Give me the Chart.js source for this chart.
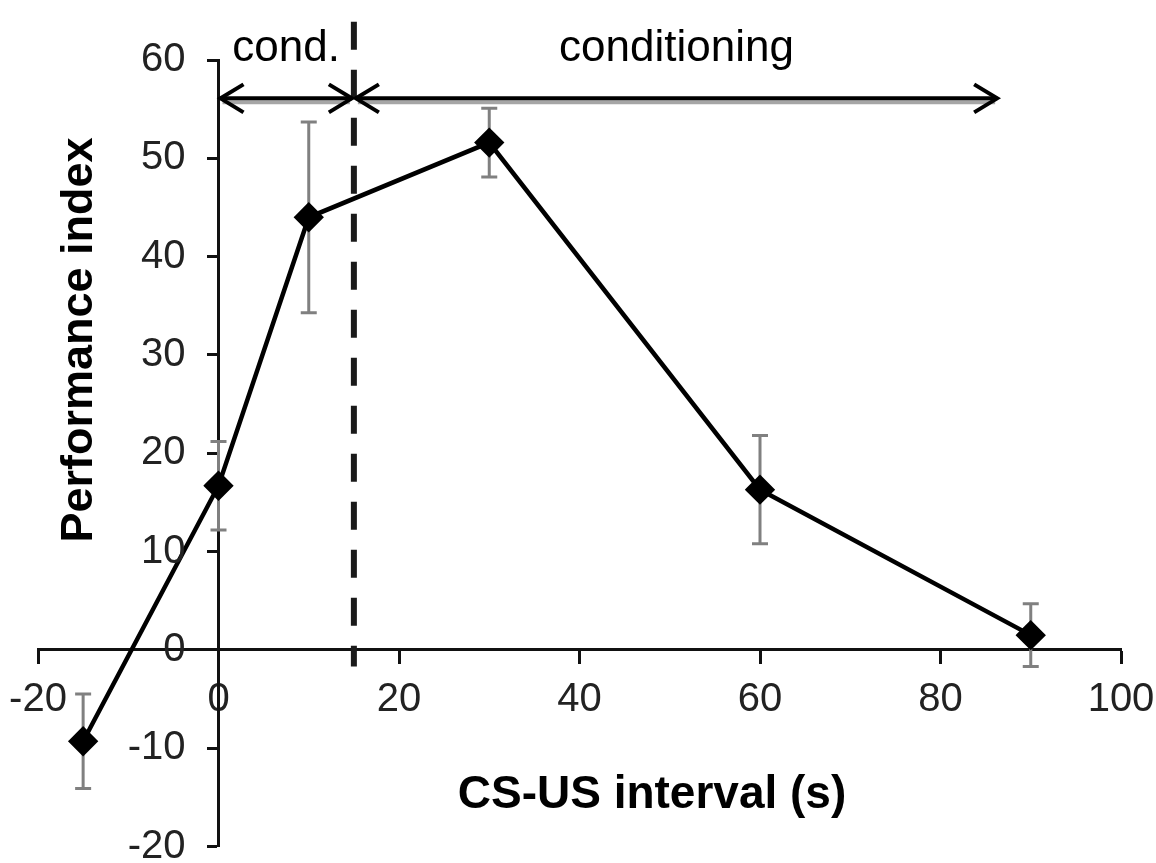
<!DOCTYPE html>
<html>
<head>
<meta charset="utf-8">
<script src="https://cdn.jsdelivr.net/npm/chart.js@4.4.1/dist/chart.umd.min.js"></script>
<style>
  html, body { margin: 0; padding: 0; background: #fff; }
  #wrap { width: 1156px; height: 863px; position: relative; }
</style>
</head>
<body>
<div id="wrap"><canvas id="perfChart"></canvas></div>
<script>
// CS-US interval (s) and performance index
const intervals = [-15, 0, 10, 30, 60, 90];
const perfIndex = [-9.3, 16.7, 44, 51.6, 16.3, 1.5];
const perfError = [4.8, 4.5, 9.7, 3.5, 5.5, 3.2];

const xTicks = [-20, 0, 20, 40, 60, 80, 100];
const yTicks = [-20, -10, 0, 10, 20, 30, 40, 50, 60];

// annotation: boundary between the two regimes and the arrow spans
const boundaryX = 15;
const boundaryYRange = [-1.7, 63.9];
const arrowY = 56.1;
const arrowSpans = [[0, 15], [15, 86.5]];
const arrowLabels = ['cond.', 'conditioning'];

const baseFont = "'Liberation Sans', Arial, sans-serif";

// gray error bars behind the line
const errorBars = {
    id: 'errorBars',
    beforeDatasetsDraw(chart) {
        const { ctx, scales: { x, y } } = chart;
        ctx.save();
        ctx.strokeStyle = '#808080';
        ctx.lineWidth = 3;
        intervals.forEach((v, i) => {
            const px = x.getPixelForValue(v);
            const top = y.getPixelForValue(perfIndex[i] + perfError[i]);
            const bot = y.getPixelForValue(perfIndex[i] - perfError[i]);
            ctx.beginPath();
            ctx.moveTo(px, top); ctx.lineTo(px, bot);
            ctx.moveTo(px - 8, top); ctx.lineTo(px + 8, top);
            ctx.moveTo(px - 8, bot); ctx.lineTo(px + 8, bot);
            ctx.stroke();
        });
        ctx.restore();
    }
};

// y tick labels sit left of the centred axis, with a gap
const yLabels = {
    id: 'yLabels',
    afterDraw(chart) {
        const { ctx, scales: { x, y } } = chart;
        const ax = x.getPixelForValue(0);
        ctx.save();
        ctx.fillStyle = '#222';
        ctx.font = '40px ' + baseFont;
        ctx.textAlign = 'right';
        ctx.textBaseline = 'middle';
        yTicks.forEach(t => ctx.fillText(String(t), ax - 33, y.getPixelForValue(t)));
        ctx.restore();
    }
};

// dashed boundary, double arrows, labels and axis titles
const annotations = {
    id: 'annotations',
    afterDatasetsDraw(chart) {
        const { ctx, scales: { x, y } } = chart;
        ctx.save();

        // dashed vertical line
        const bx = x.getPixelForValue(boundaryX);
        ctx.strokeStyle = '#1a1a1a';
        ctx.lineWidth = 6;
        ctx.setLineDash([28, 20]);
        ctx.beginPath();
        ctx.moveTo(bx, y.getPixelForValue(boundaryYRange[1]));
        ctx.lineTo(bx, y.getPixelForValue(boundaryYRange[0]));
        ctx.stroke();
        ctx.setLineDash([]);

        const ay = y.getPixelForValue(arrowY);
        arrowSpans.forEach(([a, b], i) => {
            const x1 = x.getPixelForValue(a);
            const x2 = x.getPixelForValue(b);
            // shadow
            ctx.strokeStyle = '#a6a6a6';
            ctx.lineWidth = 4;
            ctx.beginPath();
            ctx.moveTo(x1 + 4, ay + 4); ctx.lineTo(x2 - 4, ay + 4);
            ctx.stroke();
            // shaft
            ctx.strokeStyle = '#000';
            ctx.beginPath();
            ctx.moveTo(x1 + 2, ay); ctx.lineTo(x2 - 2, ay);
            ctx.stroke();
            // heads
            ctx.beginPath();
            ctx.moveTo(x1 + 25, ay - 14); ctx.lineTo(x1 + 2, ay); ctx.lineTo(x1 + 25, ay + 14);
            ctx.moveTo(x2 - 25, ay - 14); ctx.lineTo(x2 - 2, ay); ctx.lineTo(x2 - 25, ay + 14);
            ctx.stroke();

            ctx.fillStyle = '#000';
            ctx.font = '44px ' + baseFont;
            ctx.textAlign = 'center';
            ctx.textBaseline = 'alphabetic';
            ctx.fillText(arrowLabels[i], (x1 + x2) / 2, ay - 37);
        });

        // axis titles
        ctx.fillStyle = '#000';
        ctx.font = 'bold 46px ' + baseFont;
        ctx.textAlign = 'center';
        ctx.textBaseline = 'alphabetic';
        ctx.fillText('CS-US interval (s)', 652, 808);

        ctx.translate(92, 340);
        ctx.rotate(-Math.PI / 2);
        ctx.font = 'bold 45px ' + baseFont;
        ctx.fillText('Performance index', 0, 0);
        ctx.restore();
    }
};

const ctx = document.getElementById('perfChart').getContext('2d');
new Chart(ctx, {
    type: 'line',
    data: {
        datasets: [{
            label: 'Performance index',
            data: intervals.map((v, i) => ({ x: v, y: perfIndex[i] })),
            borderColor: '#000',
            backgroundColor: '#000',
            borderWidth: 4.5,
            tension: 0,
            pointStyle: 'rectRot',
            pointRadius: 12,
            pointHoverRadius: 12,
            clip: false
        }]
    },
    options: {
        responsive: true,
        maintainAspectRatio: false,
        animation: false,
        layout: {
            padding: { left: 38, right: 35, top: 60, bottom: 16 }
        },
        plugins: {
            legend: { display: false },
            tooltip: { enabled: false }
        },
        scales: {
            x: {
                type: 'linear',
                position: { y: 0 },
                min: xTicks[0],
                max: xTicks[xTicks.length - 1],
                afterBuildTicks: (s) => { s.ticks = xTicks.map(v => ({ value: v })); },
                afterFit: (s) => { s.paddingLeft = 0; s.paddingRight = 0; s.paddingTop = 0; s.paddingBottom = 0; },
                border: { color: '#111', width: 3 },
                grid: { drawOnChartArea: false, drawTicks: true, tickLength: 13, tickColor: '#111', tickWidth: 3 },
                ticks: {
                    color: '#222',
                    padding: 13,
                    maxRotation: 0,
                    autoSkip: false,
                    font: { family: baseFont, size: 40 }
                }
            },
            y: {
                type: 'linear',
                position: { x: 0 },
                min: yTicks[0],
                max: yTicks[yTicks.length - 1],
                afterBuildTicks: (s) => { s.ticks = yTicks.map(v => ({ value: v })); },
                afterFit: (s) => { s.paddingLeft = 0; s.paddingRight = 0; s.paddingTop = 0; s.paddingBottom = 0; },
                border: { color: '#111', width: 3 },
                grid: { drawOnChartArea: false, drawTicks: true, tickLength: 10, tickColor: '#111', tickWidth: 3 },
                ticks: { display: false }
            }
        }
    },
    plugins: [errorBars, annotations, yLabels]
});
</script>
</body>
</html>
